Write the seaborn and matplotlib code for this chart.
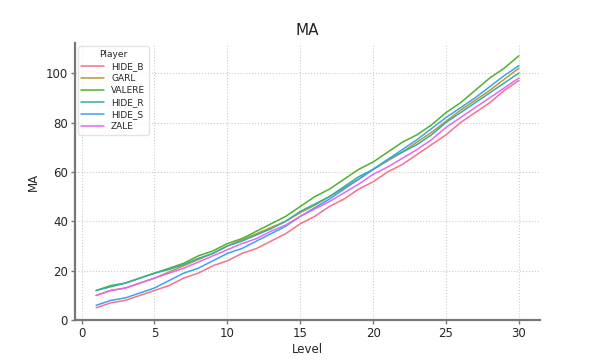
import matplotlib
matplotlib.use("Agg")
import matplotlib.pyplot as plt
import seaborn as sns
import pandas as pd

levels = list(range(1, 31))

hide_b = [5, 7, 8, 10, 12, 14, 17, 19, 22, 24, 27, 29, 32, 35, 39,
          42, 46, 49, 53, 56, 60, 63, 67, 71, 75, 80, 84, 88, 93, 97]
garl = [10, 12, 13, 15, 17, 19.5, 22, 24.5, 27, 30, 32.5, 35, 37.5, 40, 43.5,
        46.5, 50, 53.5, 57, 61, 64.5, 68, 72, 76, 80.5, 85, 89, 93, 97.5, 102]
valere = [12, 14, 15, 17, 19, 21, 23, 26, 28, 31, 33, 36, 39, 42, 46,
          50, 53, 57, 61, 64, 68, 72, 75, 79, 84, 88, 93, 98, 102, 107]
hide_r = [12, 13.5, 15, 17, 19, 20.5, 22.5, 25, 27, 30, 32, 34.5, 37, 40, 44,
          47, 50, 54, 58, 61, 65, 68, 71, 75, 80, 84, 88, 92, 96, 100]
hide_s = [6, 8, 9, 11, 13, 16, 19, 21, 24, 27, 29, 32, 35, 38, 42,
          45.5, 49, 53, 57, 61, 65, 69, 73, 77.5, 82, 86, 90, 94.5, 99, 103]
zale = [10, 12, 13, 15, 17, 19, 21, 23.5, 26, 28.5, 31, 33, 36, 38.5, 42,
        45, 48, 51.5, 55, 59, 62, 65.5, 69, 73, 78, 82, 86, 90, 94, 98]

players = ["HIDE_B", "GARL", "VALERE", "HIDE_R", "HIDE_S", "ZALE"]
series = [hide_b, garl, valere, hide_r, hide_s, zale]

rows = []
for name, vals in zip(players, series):
    for lv, v in zip(levels, vals):
        rows.append({"Level": lv, "MA": v, "Player": name})
df = pd.DataFrame(rows)

sns.set_theme(style="whitegrid")
plt.rcParams["font.family"] = ["DejaVu Sans"]

fig, ax = plt.subplots(figsize=(6, 3.6), dpi=100)
sns.lineplot(data=df, x="Level", y="MA", hue="Player", hue_order=players,
             palette=sns.color_palette("husl", 6), linewidth=1.1, ax=ax)

ax.grid(True, linestyle=":", color="#cccccc", linewidth=0.8)
for side in ["top", "right"]:
    ax.spines[side].set_visible(False)
for side in ["left", "bottom"]:
    ax.spines[side].set_color("#777777")
    ax.spines[side].set_linewidth(1.6)
ax.tick_params(axis="both", which="major", labelsize=8.5, length=3, width=1,
               color="#777777", direction="out", bottom=True, left=True, pad=2)
ax.set_xticks([0, 5, 10, 15, 20, 25, 30])
ax.set_title("MA", fontsize=11)
ax.set_xlabel("Level", fontsize=8.5, labelpad=2)
ax.set_ylabel("MA", fontsize=8.5, labelpad=4)

leg = ax.legend(title="Player", loc="upper left", fontsize=6.5, title_fontsize=6.5,
                frameon=True, edgecolor="#dddddd", handlelength=2.5,
                borderpad=0.4, labelspacing=0.35, borderaxespad=0.3)

fig.savefig("out.png", dpi=100)
